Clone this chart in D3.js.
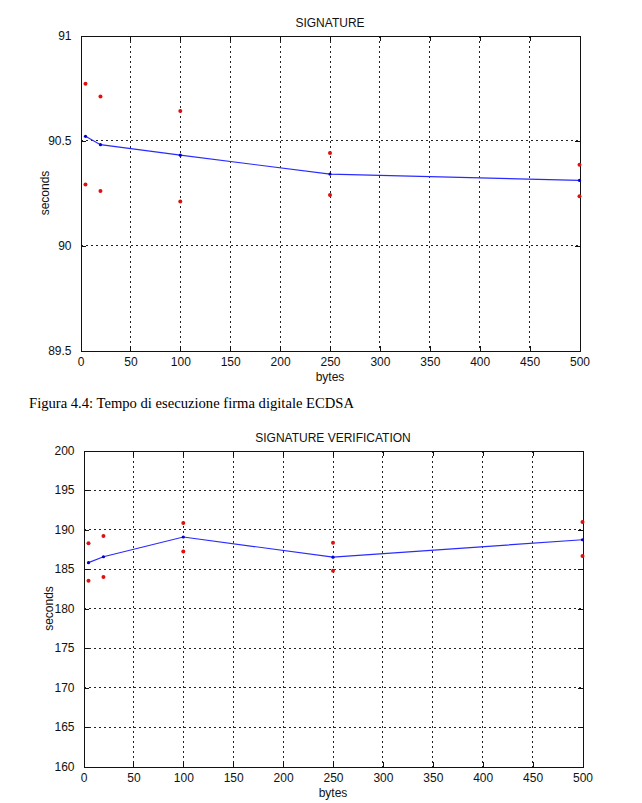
<!DOCTYPE html>
<html>
<head>
<meta charset="utf-8">
<script src="https://cdn.jsdelivr.net/npm/d3@7"></script>
<style>
  html, body { margin: 0; padding: 0; background: #fff; }
  svg { display: block; }
</style>
</head>
<body>
<svg id="chart" width="642" height="803"></svg>
<script>
// ---- data ----
const xBytes = [5, 20, 100, 250, 500];
const xTicks = [0, 50, 100, 150, 200, 250, 300, 350, 400, 450, 500];

const sigMean = [90.52, 90.48, 90.43, 90.34, 90.31];
const sigHigh = [90.77, 90.71, 90.64, 90.44, 90.385];
const sigLow  = [90.29, 90.26, 90.21, 90.24, 90.235];
const sigYTicks = [89.5, 90, 90.5, 91];

const verMean = [185.8, 186.55, 189.05, 186.5, 188.7];
const verHigh = [188.25, 189.17, 190.83, 188.33, 190.95];
const verLow  = [183.5, 184.0, 187.2, 184.77, 186.64];
const verYTicks = [160, 165, 170, 175, 180, 185, 190, 195, 200];

const caption = "Figura 4.4: Tempo di esecuzione firma digitale ECDSA";

const svg = d3.select("#chart");
const FONT = "'Liberation Sans', Arial, sans-serif";

function drawChart(cfg) {
  const g = svg.append("g");
  const x = d3.scaleLinear().domain([0, 500]).range([cfg.left, cfg.right]);
  const y = d3.scaleLinear().domain(cfg.yDomain).range([cfg.bottom, cfg.top]);

  // grid
  g.selectAll(".vg").data(xTicks.slice(1, -1)).join("line")
    .attr("x1", d => x(d)).attr("x2", d => x(d))
    .attr("y1", cfg.top).attr("y2", cfg.bottom)
    .attr("stroke", "#222").attr("stroke-width", 1).attr("stroke-dasharray", "2,3")
    .attr("shape-rendering", "crispEdges");
  g.selectAll(".hg").data(cfg.yTicks.slice(1, -1)).join("line")
    .attr("x1", cfg.left).attr("x2", cfg.right)
    .attr("y1", d => y(d)).attr("y2", d => y(d))
    .attr("stroke", "#222").attr("stroke-width", 1).attr("stroke-dasharray", "2,3")
    .attr("shape-rendering", "crispEdges");

  // axes (inward ticks)
  const axB = d3.axisBottom(x).tickValues(xTicks).tickSize(-5).tickPadding(7).tickFormat(d => String(d));
  const axT = d3.axisTop(x).tickValues(xTicks).tickSize(-5).tickFormat("");
  const axL = d3.axisLeft(y).tickValues(cfg.yTicks).tickSize(-5).tickPadding(9).tickFormat(d => String(d));
  const axR = d3.axisRight(y).tickValues(cfg.yTicks).tickSize(-5).tickFormat("");

  const styleAxis = sel => {
    sel.selectAll("path").attr("stroke", "#111").attr("shape-rendering", "crispEdges");
    sel.selectAll("line").attr("stroke", "#111").attr("shape-rendering", "crispEdges");
    sel.selectAll("text").attr("font-family", FONT).attr("font-size", 12).attr("fill", "#111");
  };
  g.append("g").attr("transform", `translate(0,${cfg.bottom})`).call(axB).call(styleAxis);
  g.append("g").attr("transform", `translate(0,${cfg.top})`).call(axT).call(styleAxis);
  g.append("g").attr("transform", `translate(${cfg.left},0)`).call(axL).call(styleAxis);
  g.append("g").attr("transform", `translate(${cfg.right},0)`).call(axR).call(styleAxis);

  // line
  const pts = xBytes.map((d, i) => [d, cfg.mean[i]]);
  g.append("path").datum(pts)
    .attr("fill", "none").attr("stroke", "#2a2aff").attr("stroke-width", 1.2)
    .attr("d", d3.line().x(d => x(d[0])).y(d => y(d[1])));
  g.selectAll(".mk").data(pts).join("circle")
    .attr("cx", d => x(d[0])).attr("cy", d => y(d[1])).attr("r", 1.6).attr("fill", "#0000cc");

  // red points
  const reds = xBytes.flatMap((d, i) => [[d, cfg.high[i]], [d, cfg.low[i]]]);
  g.selectAll(".rd").data(reds).join("circle")
    .attr("cx", d => x(d[0])).attr("cy", d => y(d[1])).attr("r", 2).attr("fill", "#e01010");

  // labels
  const cx = (cfg.left + cfg.right) / 2;
  g.append("text").attr("x", cx).attr("y", cfg.top - 9).attr("text-anchor", "middle")
    .attr("font-family", FONT).attr("font-size", 12).attr("fill", "#111").text(cfg.title);
  g.append("text").attr("x", cx).attr("y", cfg.bottom + 30).attr("text-anchor", "middle")
    .attr("font-family", FONT).attr("font-size", 12).attr("fill", "#111").text("bytes");
  g.append("text")
    .attr("transform", `translate(${cfg.ylabX},${(cfg.top + cfg.bottom) / 2}) rotate(-90)`)
    .attr("text-anchor", "middle")
    .attr("font-family", FONT).attr("font-size", 12).attr("fill", "#111").text("seconds");
}

drawChart({
  left: 80.5, right: 579.5, top: 35.5, bottom: 350.5,
  yDomain: [89.5, 91], yTicks: sigYTicks,
  mean: sigMean, high: sigHigh, low: sigLow,
  title: "SIGNATURE", ylabX: 49
});

svg.append("text").attr("x", 29).attr("y", 407.5)
  .attr("font-family", "'Liberation Serif', 'Times New Roman', serif")
  .attr("font-size", 15).attr("textLength", 325).attr("lengthAdjust", "spacingAndGlyphs")
  .attr("fill", "#000").text(caption);

drawChart({
  left: 83.5, right: 582.5, top: 450.5, bottom: 766.5,
  yDomain: [160, 200], yTicks: verYTicks,
  mean: verMean, high: verHigh, low: verLow,
  title: "SIGNATURE VERIFICATION", ylabX: 53
});
</script>
</body>
</html>
